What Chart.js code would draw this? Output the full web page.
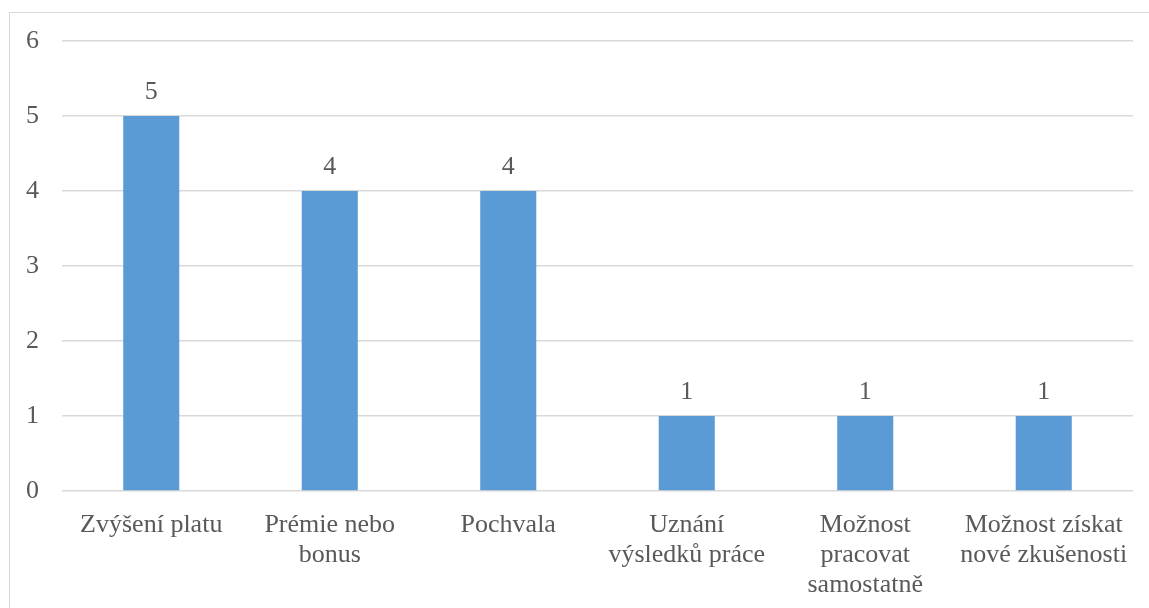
<!DOCTYPE html>
<html>
<head>
<meta charset="utf-8">
<script src="https://cdn.jsdelivr.net/npm/chart.js@4/dist/chart.umd.min.js"></script>
<style>
  html, body { margin: 0; padding: 0; background: #fff; overflow: hidden; }
  #frame { position: absolute; left: 9px; top: 12px; width: 1200px; height: 700px;
           border-top: 1px solid #d9d9d9; border-left: 1px solid #d9d9d9; }
  #wrap { position: absolute; left: 0; top: 0; width: 1149px; height: 608px; }
</style>
</head>
<body>
<div id="frame"></div>
<div id="wrap"><canvas id="rewardChart"></canvas></div>
<script>
// motivating factors - number of responses
const categories = [
  'Zvýšení platu',
  ['Prémie nebo', 'bonus'],
  'Pochvala',
  ['Uznání', 'výsledků práce'],
  ['Možnost', 'pracovat', 'samostatně'],
  ['Možnost získat', 'nové zkušenosti']
];
const counts = [5, 4, 4, 1, 1, 1];
const yTicks = [0, 1, 2, 3, 4, 5, 6];

const FONT = "'Liberation Serif', 'Times New Roman', serif";
const TEXT = '#595959';

// value above each bar
const barValues = {
  id: 'barValues',
  afterDatasetsDraw(chart) {
    const ctx = chart.ctx;
    const meta = chart.getDatasetMeta(0);
    ctx.save();
    ctx.font = '26px ' + FONT;
    ctx.fillStyle = TEXT;
    ctx.textAlign = 'center';
    ctx.textBaseline = 'alphabetic';
    meta.data.forEach((bar, i) => {
      ctx.fillText(String(counts[i]), bar.x, bar.y - 17);
    });
    ctx.restore();
  }
};

new Chart(document.getElementById('rewardChart'), {
  type: 'bar',
  data: {
    labels: categories,
    datasets: [{
      data: counts,
      backgroundColor: '#5b9bd5',
      borderWidth: 0,
      categoryPercentage: 1,
      barPercentage: 0.314
    }]
  },
  options: {
    responsive: true,
    maintainAspectRatio: false,
    animation: false,
    layout: { padding: { top: 41, right: 16, left: 0, bottom: 0 } },
    plugins: { legend: { display: false }, tooltip: { enabled: false } },
    scales: {
      x: {
        grid: { display: false },
        border: { display: false },
        ticks: { color: TEXT, font: { family: FONT, size: 26, lineHeight: 1.15 }, padding: 11, maxRotation: 0, autoSkip: false },
        afterFit(axis) { axis.height = 117; }
      },
      y: {
        min: 0,
        max: 6,
        afterBuildTicks(axis) { axis.ticks = yTicks.map(v => ({ value: v })); },
        grid: { color: '#d9d9d9', lineWidth: 1.5, drawTicks: false },
        border: { display: false },
        ticks: { color: TEXT, font: { family: FONT, size: 26 }, padding: 23 },
        afterFit(axis) { axis.width = 62; }
      }
    }
  },
  plugins: [barValues]
});
</script>
</body>
</html>
